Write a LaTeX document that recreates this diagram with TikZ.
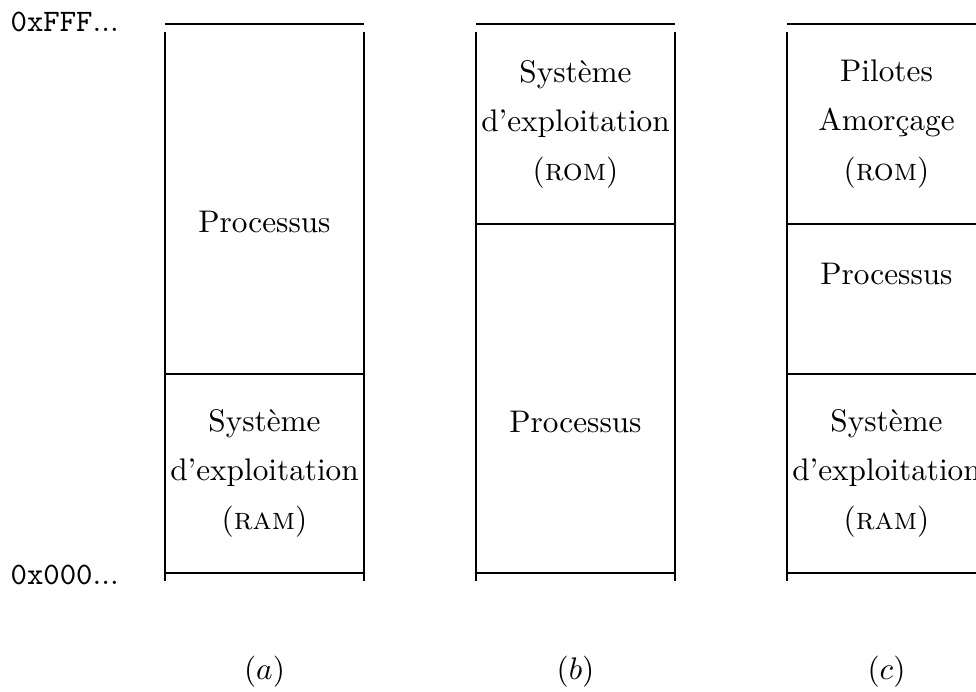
\documentclass[tikz,border=0pt]{standalone}
\begin{document}
\begin{tikzpicture}[x=0.32pt,y=-0.32pt,
  mem/.style={line width=0.4pt},
  zone/.style={align=center,inner sep=0pt,font=\fontsize{10pt}{15.7pt}\selectfont},
  addr/.style={anchor=west,inner sep=0pt},
  caption/.style={inner sep=0pt}]
\useasboundingbox (0,0) rectangle (976,691);

% address labels
\node[addr] (hi) at (10,22) {\texttt{0xFFF}\textrm{...}};
\node[addr] (lo) at (10,575) {\texttt{0x000}\textrm{...}};

% (a) OS in RAM at the bottom
\draw[mem] (165,24) -- (364,24);
\draw[mem] (165,32) -- (165,581) (364,32) -- (364,581);
\draw[mem] (165,374) -- (364,374) (165,573) -- (364,573);
\node[zone] (aproc) at (264.5,222) {Processus};
\node[zone] (aos) at (264.5,473) {Système\\d'exploitation\\(\textsc{ram})};
\node[caption] (la) at (264.5,672) {$(a)$};

% (b) OS in ROM at the top
\draw[mem] (476,24) -- (675,24);
\draw[mem] (476,32) -- (476,581) (675,32) -- (675,581);
\draw[mem] (476,224) -- (675,224) (476,573) -- (675,573);
\node[zone] (bos) at (575.5,124) {Système\\d'exploitation\\(\textsc{rom})};
\node[zone] (bproc) at (575.5,422) {Processus};
\node[caption] (lb) at (575.5,672) {$(b)$};

% (c) drivers in ROM, OS in RAM
\draw[mem] (787,24) -- (986,24);
\draw[mem] (787,32) -- (787,581) (986,32) -- (986,581);
\draw[mem] (787,224) -- (986,224) (787,374) -- (986,374) (787,573) -- (986,573);
\node[zone] (cdrv) at (886.5,124) {Pilotes\\Amorçage\\(\textsc{rom})};
\node[zone] (cproc) at (886.5,274) {Processus};
\node[zone] (cos) at (886.5,473) {Système\\d'exploitation\\(\textsc{ram})};
\node[caption] (lc) at (886.5,672) {$(c)$};
\end{tikzpicture}
\end{document}
